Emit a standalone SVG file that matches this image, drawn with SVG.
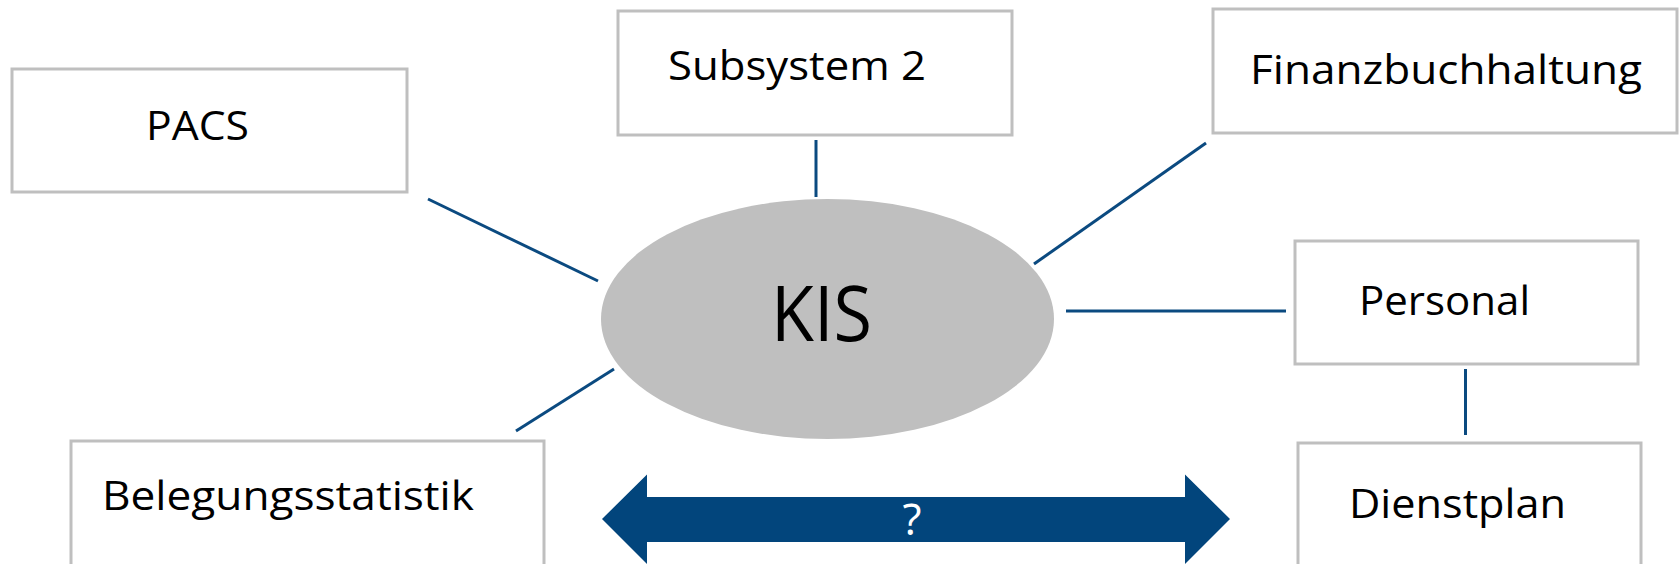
<svg xmlns="http://www.w3.org/2000/svg" width="1679" height="564" viewBox="0 0 1679 564">
<style>
.box{fill:#ffffff;stroke:#bfbfbf;stroke-width:3}
.lbl{font-family:"Open Sans","Liberation Sans",sans-serif;font-size:41px;fill:#000000}
.con{stroke:#0b4a80;stroke-width:3;fill:none}
</style>
<rect width="1679" height="564" fill="#ffffff"/>
<g id="connectors">
<line class="con" x1="428" y1="199" x2="598" y2="281"/>
<line class="con" x1="816" y1="140" x2="816" y2="197"/>
<line class="con" x1="1206" y1="143" x2="1034" y2="264"/>
<line class="con" x1="1066" y1="311" x2="1286" y2="311"/>
<line class="con" x1="1465.5" y1="369" x2="1465.5" y2="435"/>
<line class="con" x1="614" y1="369" x2="516" y2="431"/>
<polygon id="double-arrow" points="602,519 647,474.5 647,497 1185,497 1185,474.5 1230,519 1185,564 1185,542 647,542 647,564" fill="#02457c"/>
<text x="912" y="535" text-anchor="middle" font-family="'Open Sans','Liberation Sans',sans-serif" font-size="44" fill="#ffffff">?</text>
</g>
<g id="kis">
<ellipse cx="827.5" cy="319" rx="226.5" ry="120" fill="#bfbfbf"/>
<text x="771" y="341" font-family="'Open Sans','Liberation Sans',sans-serif" font-size="76" fill="#000000" textLength="101" lengthAdjust="spacingAndGlyphs">KIS</text>
</g>
<g id="pacs">
<rect class="box" x="12" y="69" width="395" height="123"/>
<text class="lbl" x="146" y="140" textLength="103" lengthAdjust="spacingAndGlyphs">PACS</text>
</g>
<g id="subsystem2">
<rect class="box" x="618" y="11" width="394" height="124"/>
<text class="lbl" x="668" y="80" textLength="258" lengthAdjust="spacingAndGlyphs">Subsystem 2</text>
</g>
<g id="finanzbuchhaltung">
<rect class="box" x="1213" y="9" width="464" height="124"/>
<text class="lbl" x="1250" y="84" textLength="392" lengthAdjust="spacingAndGlyphs">Finanzbuchhaltung</text>
</g>
<g id="personal">
<rect class="box" x="1295" y="241" width="343" height="123"/>
<text class="lbl" x="1359" y="315" textLength="171" lengthAdjust="spacingAndGlyphs">Personal</text>
</g>
<g id="dienstplan">
<rect class="box" x="1298" y="443" width="343" height="125"/>
<text class="lbl" x="1349" y="518" textLength="217" lengthAdjust="spacingAndGlyphs">Dienstplan</text>
</g>
<g id="belegungsstatistik">
<rect class="box" x="71" y="441" width="473" height="127"/>
<text class="lbl" x="102" y="510" textLength="372" lengthAdjust="spacingAndGlyphs">Belegungsstatistik</text>
</g>
</svg>
